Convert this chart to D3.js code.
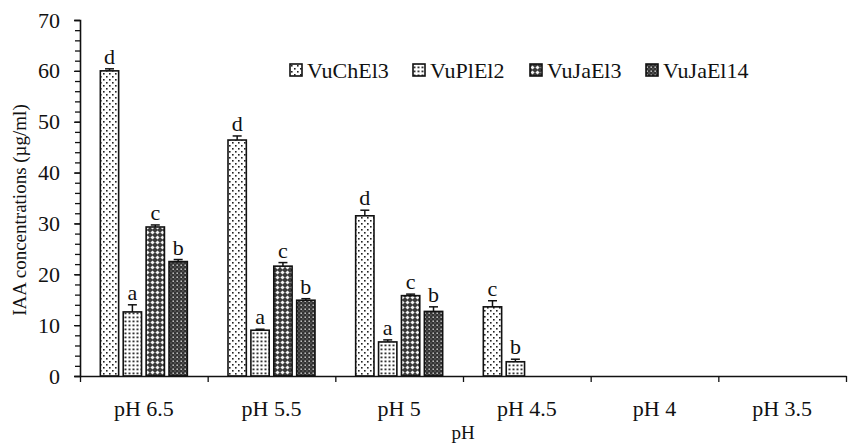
<!DOCTYPE html>
<html>
<head>
<meta charset="utf-8">
<script src="https://cdn.jsdelivr.net/npm/d3@7"></script>
<style>
  body { margin: 0; background: #fff; }
  text { font-family: "Liberation Serif", "Times New Roman", serif; fill: #111; }
</style>
</head>
<body>
<div id="chart"></div>
<script>
// categories and series
var categories = ["pH 6.5", "pH 5.5", "pH 5", "pH 4.5", "pH 4", "pH 3.5"];
var seriesNames = ["VuChEl3", "VuPlEl2", "VuJaEl3", "VuJaEl14"];

// mean values per series (one per pH)
var vuChEl3 = [60.0, 46.4, 31.5, 13.6, 0, 0];
var vuPlEl2 = [12.6, 9.0, 6.7, 2.8, 0, 0];
var vuJaEl3 = [29.3, 21.6, 15.8, 0, 0, 0];
var vuJaEl14 = [22.5, 14.9, 12.7, 0, 0, 0];

// error bars (upper half)
var errChEl3 = [0.4, 0.8, 1.1, 1.2, 0, 0];
var errPlEl2 = [1.4, 0.2, 0.4, 0.5, 0, 0];
var errJaEl3 = [0.4, 0.7, 0.3, 0, 0, 0];
var errJaEl14 = [0.4, 0.3, 0.9, 0, 0, 0];

// significance letters
var lettersChEl3 = ["d", "d", "d", "c", "", ""];
var lettersPlEl2 = ["a", "a", "a", "b", "", ""];
var lettersJaEl3 = ["c", "c", "c", "", "", ""];
var lettersJaEl14 = ["b", "b", "b", "", "", ""];

var yTicks = [0, 10, 20, 30, 40, 50, 60, 70];

function init() {
    var values = [vuChEl3, vuPlEl2, vuJaEl3, vuJaEl14];
    var errors = [errChEl3, errPlEl2, errJaEl3, errJaEl14];
    var letters = [lettersChEl3, lettersPlEl2, lettersJaEl3, lettersJaEl14];

    var w = 848, h = 446;
    var left = 80, right = 846, padTop = 20, bottom = 376;

    var svg = d3.select("#chart").append("svg")
        .attr("width", w).attr("height", h);

    // fill patterns
    var defs = svg.append("defs");
    function pat(id, size, bg, draw) {
        var p = defs.append("pattern").attr("id", id)
            .attr("patternUnits", "userSpaceOnUse")
            .attr("width", size).attr("height", size);
        p.append("rect").attr("width", size).attr("height", size).attr("fill", bg);
        draw(p);
    }
    pat("p0", 6, "#fff", function(p) {
        p.append("rect").attr("x", 1).attr("y", 1).attr("width", 1.6).attr("height", 1.6).attr("fill", "#222");
        p.append("rect").attr("x", 4).attr("y", 4).attr("width", 1.6).attr("height", 1.6).attr("fill", "#222");
    });
    pat("p1", 4, "#fff", function(p) {
        p.append("rect").attr("x", 0.5).attr("y", 0.5).attr("width", 2).attr("height", 1.8).attr("fill", "#333");
    });
    pat("p2", 5, "#3a3a3a", function(p) {
        p.append("path").attr("d", "M2.5,0.4 L4.6,2.5 L2.5,4.6 L0.4,2.5 Z").attr("fill", "#f2f2f2");
    });
    pat("p3", 4, "#333", function(p) {
        p.append("rect").attr("x", 0.5).attr("y", 0.5).attr("width", 1.4).attr("height", 1.4).attr("fill", "#ddd");
        p.append("rect").attr("x", 2.5).attr("y", 2.5).attr("width", 1).attr("height", 1).attr("fill", "#999");
    });

    var xScale = d3.scaleBand().domain(categories).range([left, right]);
    var groupW = 87;
    var x1 = d3.scaleBand().domain(d3.range(4))
        .range([0, groupW]).paddingInner(0.2);
    var yScale = d3.scaleLinear().domain([0, 70]).range([bottom, padTop]);

    // bars with error caps and letters
    values.forEach(function(vals, s) {
        var g = svg.append("g");
        categories.forEach(function(c, i) {
            if (vals[i] <= 0) return;
            var x0 = xScale(c) + (xScale.bandwidth() - groupW) / 2 + x1(s);
            var bw = x1.bandwidth();
            g.append("rect")
                .attr("x", x0).attr("y", yScale(vals[i]))
                .attr("width", bw).attr("height", yScale(0) - yScale(vals[i]))
                .attr("fill", "url(#p" + s + ")")
                .attr("stroke", "#111").attr("stroke-width", 1.6);
            var yt = yScale(vals[i] + errors[s][i]);
            var cx = x0 + bw / 2;
            g.append("line").attr("x1", cx).attr("x2", cx)
                .attr("y1", yScale(vals[i])).attr("y2", yt)
                .attr("stroke", "#111").attr("stroke-width", 1.5);
            g.append("line").attr("x1", cx - 4.5).attr("x2", cx + 4.5)
                .attr("y1", yt).attr("y2", yt)
                .attr("stroke", "#111").attr("stroke-width", 1.5);
            g.append("text").attr("x", cx).attr("y", yt - 5)
                .attr("text-anchor", "middle").attr("font-size", 22)
                .text(letters[s][i]);
        });
    });

    // y axis with minor ticks
    var yMinor = d3.axisLeft(yScale).tickValues(d3.range(0, 71, 2)).tickSize(5).tickFormat("");
    svg.append("g").attr("transform", "translate(" + left + ",0)").call(yMinor)
        .call(function(g) { g.selectAll("line").attr("stroke", "#111").attr("stroke-width", 1.3); g.select(".domain").remove(); });
    var yAxis = d3.axisLeft(yScale).tickValues(yTicks).tickSize(6).tickPadding(14);
    svg.append("g").attr("transform", "translate(" + left + ",0)").call(yAxis)
        .call(function(g) {
            g.select(".domain").attr("stroke", "#111").attr("stroke-width", 1.6);
            g.selectAll("line").attr("stroke", "#111").attr("stroke-width", 1.3);
            g.selectAll("text").attr("font-size", 22).attr("font-family", "Liberation Serif").attr("fill", "#111");
        });

    // x axis: boundary ticks + labels
    var xEdges = d3.scaleLinear().domain([0, categories.length]).range([left, right]);
    svg.append("g").attr("transform", "translate(0," + bottom + ")")
        .call(d3.axisBottom(xEdges).tickValues(d3.range(0, categories.length + 1)).tickSize(6).tickFormat("").tickSizeOuter(0))
        .call(function(g) {
            g.select(".domain").attr("stroke", "#111").attr("stroke-width", 1.6);
            g.selectAll("line").attr("stroke", "#111").attr("stroke-width", 1.3);
        });
    svg.append("g").attr("transform", "translate(0," + bottom + ")")
        .call(d3.axisBottom(xScale).tickSize(0).tickPadding(24))
        .call(function(g) {
            g.select(".domain").remove();
            g.selectAll("text").attr("font-size", 22).attr("font-family", "Liberation Serif").attr("fill", "#111");
        });

    // axis titles
    svg.append("text").attr("x", (left + right) / 2).attr("y", 439)
        .attr("text-anchor", "middle").attr("font-size", 19).text("pH");
    svg.append("text")
        .attr("transform", "translate(26," + ((padTop + bottom) / 2 + 12) + ") rotate(-90)")
        .attr("text-anchor", "middle").attr("font-size", 19)
        .text("IAA concentrations (µg/ml)");

    // legend
    var legendX = [290, 413, 530, 646];
    var legend = svg.append("g");
    seriesNames.forEach(function(n, s) {
        var lg = legend.append("g").attr("transform", "translate(" + legendX[s] + ",70)");
        lg.append("rect").attr("x", 0).attr("y", -6).attr("width", 12).attr("height", 12)
            .attr("fill", "url(#p" + s + ")").attr("stroke", "#111").attr("stroke-width", 1.6);
        lg.append("text").attr("x", 17).attr("y", 8).attr("font-size", 22).text(n);
    });
}

window.onload = init;
</script>
</body>
</html>
